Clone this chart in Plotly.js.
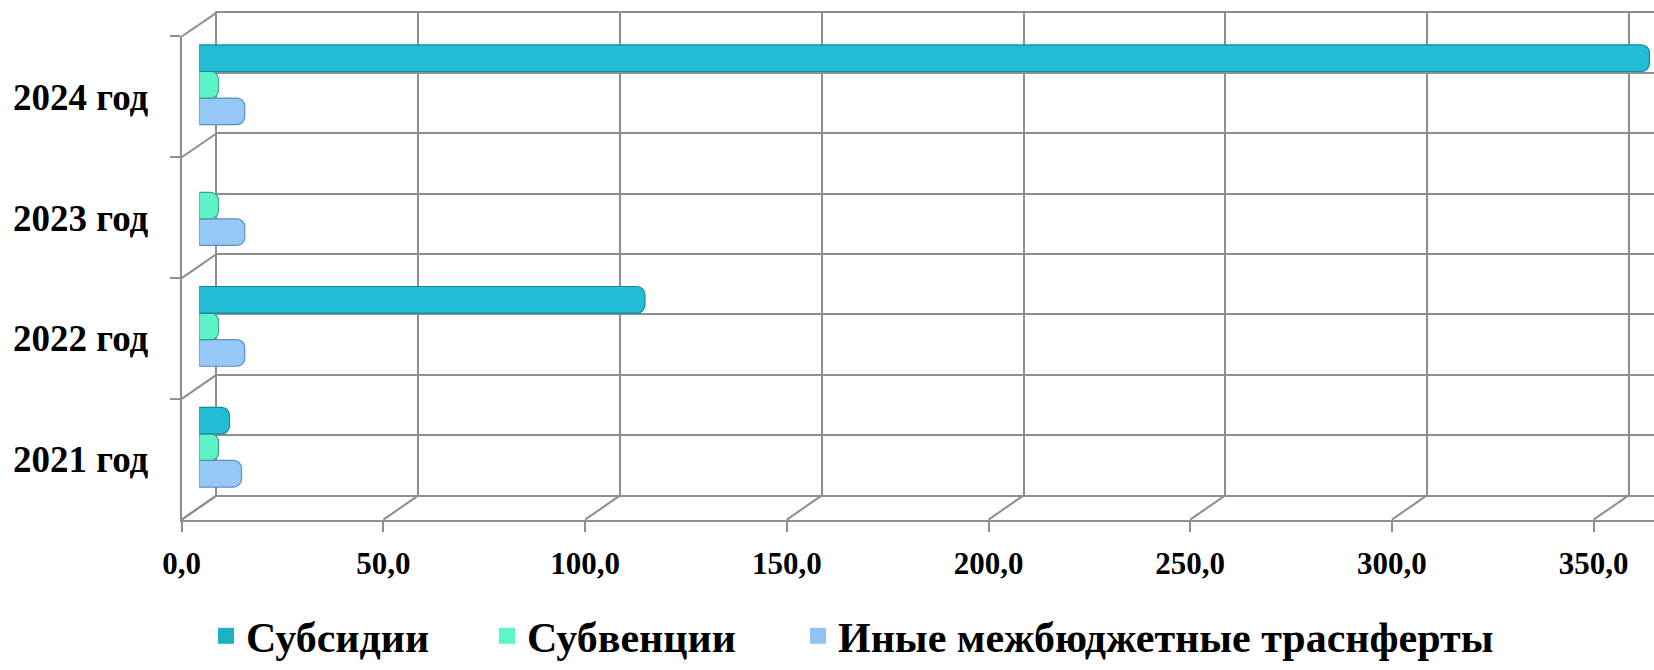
<!DOCTYPE html>
<html>
<head>
<meta charset="utf-8">
<script src="https://cdn.plot.ly/plotly-3.0.1.min.js"></script>
<style>
  html, body { margin: 0; padding: 0; background: #ffffff; }
  #chart { width: 1654px; height: 670px; }
</style>
</head>
<body>
<div id="chart"></div>
<script>
// ---- Data ----
const categories = ['2021 год', '2022 год', '2023 год', '2024 год'];
const subsidies = [7.5, 110.5, 0, 359.5];        // Субсидии
const subventions = [4.8, 4.8, 4.8, 4.8];        // Субвенции
const otherTransfers = [10.5, 11.3, 11.3, 11.3]; // Иные межбюджетные траснферты
const seriesNames = ['Субсидии', 'Субвенции', 'Иные межбюджетные траснферты'];
const xTickValues = [0, 50, 100, 150, 200, 250, 300, 350];

// ---- Geometry of the pseudo-3D frame (pixels) ----
const W = 1654, H = 670;
const PXU = 4.034;                 // pixels per unit on the value axis
const front = { x0: 181.7, yTop: 37.7, yBot: 537.3 };
const back  = { x0: 216.7, yTop: 13.0, yBot: 512.2 };
const mid   = { x0: 199.2, yTop: 25.2, yBot: 524.8 };
const px = v => v / W;
const py = v => 1 - v / H;

const GRID = '#8e8e8e';
const FONT = '"Times New Roman", "Liberation Serif", serif';

const colors = {
  sub:  { fill: '#22bdd4', edge: '#15899c', key: '#1fb0c8' },
  subv: { fill: '#5ef2c8', edge: '#37a785', key: '#5ef5c9' },
  oth:  { fill: '#95c8f6', edge: '#5d8ebf', key: '#8ec3f5' }
};

function barTrace(name, values, c) {
  return {
    type: 'bar', orientation: 'h', name: name,
    y: categories, x: values,
    xaxis: 'x3', yaxis: 'y3',
    showlegend: false,
    marker: {
      color: c.fill,
      line: { color: c.edge, width: values.map(v => v > 0 ? 1.2 : 0) },
      cornerradius: 8
    },
    hoverinfo: 'x+name'
  };
}
function keyTrace(name, c, legendId) {
  return {
    type: 'scatter', mode: 'markers', name: name,
    x: [null], y: [null], xaxis: 'x3', yaxis: 'y3',
    legend: legendId, showlegend: true,
    marker: { symbol: 'square', size: 16, color: c.key, line: { width: 0 } },
    hoverinfo: 'skip'
  };
}

// first bar trace is drawn lowest in each group
const traces = [
  barTrace(seriesNames[2], otherTransfers, colors.oth),
  barTrace(seriesNames[1], subventions, colors.subv),
  barTrace(seriesNames[0], subsidies, colors.sub),
  keyTrace(seriesNames[0], colors.sub, 'legend'),
  keyTrace(seriesNames[1], colors.subv, 'legend2'),
  keyTrace(seriesNames[2], colors.oth, 'legend3'),
  // invisible trace to activate the back-wall subplot
  { type: 'scatter', x: [0], y: [0], xaxis: 'x', yaxis: 'y', mode: 'markers',
    marker: { opacity: 0 }, showlegend: false, hoverinfo: 'skip' },
  // invisible trace to activate the front-axes subplot
  { type: 'scatter', x: [0], y: [categories[0]], xaxis: 'x2', yaxis: 'y2', mode: 'markers',
    marker: { opacity: 0 }, showlegend: false, hoverinfo: 'skip' }
];

// perspective lines (left wall and floor)
const shapes = [];
for (let k = 0; k <= categories.length; k++) {
  const fy = front.yBot - k * (front.yBot - front.yTop) / categories.length;
  const by = back.yBot - k * (back.yBot - back.yTop) / categories.length;
  shapes.push({ type: 'line', xref: 'paper', yref: 'paper', layer: 'below',
    x0: px(front.x0), y0: py(fy), x1: px(back.x0), y1: py(by),
    line: { color: GRID, width: 2 } });
}
xTickValues.forEach(v => {
  shapes.push({ type: 'line', xref: 'paper', yref: 'paper', layer: 'below',
    x0: px(front.x0 + v * PXU), y0: py(front.yBot),
    x1: px(back.x0 + v * PXU), y1: py(back.yBot),
    line: { color: GRID, width: 2 } });
});

const legendBase = {
  orientation: 'h', xanchor: 'left',
  y: py(658), yanchor: 'middle',
  font: { family: FONT, size: 42, weight: 'bold', color: '#000' },
  bgcolor: 'rgba(0,0,0,0)', borderwidth: 0
};

const layout = {
  width: W, height: H,
  margin: { l: 0, r: 0, t: 0, b: 0, pad: 0 },
  paper_bgcolor: '#ffffff',
  plot_bgcolor: 'rgba(0,0,0,0)',
  separators: ', ',
  barmode: 'group',
  bargap: 0.34,
  bargroupgap: 0,
  font: { family: FONT, color: '#000000' },
  // back wall
  xaxis: {
    domain: [px(back.x0), 1], range: [0, (W - back.x0) / PXU],
    tickvals: xTickValues, showticklabels: false, ticks: '',
    showgrid: true, gridcolor: GRID, gridwidth: 2,
    zeroline: false, showline: true, linecolor: GRID, linewidth: 2, mirror: true,
    anchor: 'y', fixedrange: true
  },
  yaxis: {
    domain: [py(back.yBot), py(back.yTop)], range: [0, 8], dtick: 1,
    showticklabels: false, ticks: '',
    showgrid: true, gridcolor: GRID, gridwidth: 2,
    zeroline: false, showline: true, linecolor: GRID, linewidth: 2,
    anchor: 'x', fixedrange: true
  },
  // front axes with labels
  xaxis2: {
    domain: [px(front.x0), 1], range: [0, (W - front.x0) / PXU],
    tickvals: xTickValues, tickformat: '.1f',
    ticks: 'outside', ticklen: 10, tickwidth: 2, tickcolor: GRID,
    showline: true, linecolor: GRID, linewidth: 2,
    showgrid: false, zeroline: false,
    tickfont: { family: FONT, size: 31, weight: 'bold', color: '#000' },
    ticklabelstandoff: 5,
    anchor: 'y2', fixedrange: true
  },
  yaxis2: {
    domain: [py(front.yBot), py(front.yTop)],
    type: 'category', categoryarray: categories, categoryorder: 'array',
    range: [-0.5, categories.length - 0.5],
    ticks: 'outside', tickson: 'boundaries', ticklen: 10, tickwidth: 2, tickcolor: GRID,
    showline: true, linecolor: GRID, linewidth: 2,
    showgrid: false, zeroline: false,
    tickfont: { family: FONT, size: 37, weight: 'bold', color: '#000' },
    ticklabelstandoff: 24,
    anchor: 'x2', fixedrange: true
  },
  // bars at mid depth
  xaxis3: {
    domain: [px(mid.x0), 1], range: [0, (W - mid.x0) / PXU],
    visible: false, anchor: 'y3', fixedrange: true
  },
  yaxis3: {
    domain: [py(mid.yBot), py(mid.yTop)],
    type: 'category', categoryarray: categories, categoryorder: 'array',
    range: [-0.5, categories.length - 0.5],
    visible: false, anchor: 'x3', fixedrange: true
  },
  shapes: shapes,
  showlegend: true,
  legend:  Object.assign({}, legendBase, { x: 206 / W }),
  legend2: Object.assign({}, legendBase, { x: 487 / W }),
  legend3: Object.assign({}, legendBase, { x: 798 / W })
};

Plotly.newPlot('chart', traces, layout, { displayModeBar: false, staticPlot: true });
</script>
</body>
</html>
